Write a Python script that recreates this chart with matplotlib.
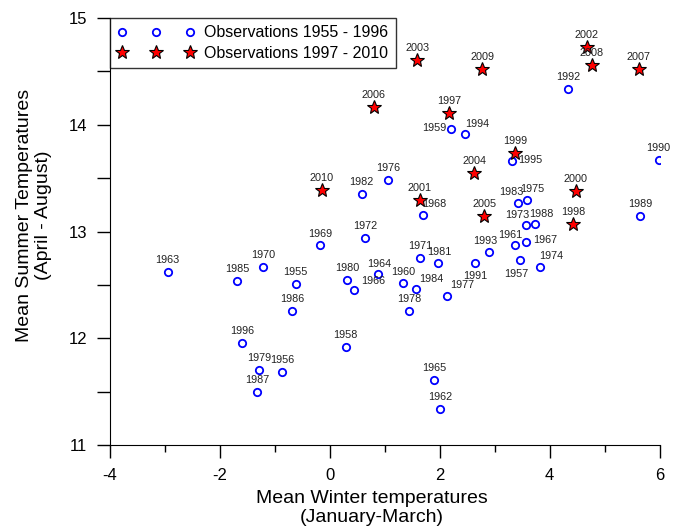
import matplotlib
matplotlib.use("Agg")
import matplotlib.pyplot as plt
from matplotlib.ticker import MultipleLocator

plt.rcParams["font.family"] = ["Liberation Sans", "DejaVu Sans"]
plt.rcParams["axes.unicode_minus"] = False

# observations 1955 - 1996
old_years = [1955, 1956, 1957, 1958, 1959, 1960, 1961, 1962, 1963, 1964,
             1965, 1966, 1967, 1968, 1969, 1970, 1971, 1972, 1973, 1974,
             1975, 1976, 1977, 1978, 1979, 1980, 1981, 1982, 1983, 1984,
             1985, 1986, 1987, 1988, 1989, 1990, 1991, 1992, 1993, 1994,
             1995, 1996]
old_winter = [-0.62, -0.86, 3.46, 0.29, 2.21, 1.33, 3.36, 2.01, -2.95, 0.87,
              1.90, 0.44, 3.56, 1.70, -0.17, -1.21, 1.64, 0.64, 3.57, 3.83,
              3.59, 1.06, 2.13, 1.44, -1.28, 0.31, 1.97, 0.58, 3.43, 1.57,
              -1.68, -0.68, -1.32, 3.74, 5.64, 5.98, 2.64, 4.34, 2.90, 2.46,
              3.32, -1.59]
old_summer = [12.51, 11.69, 12.73, 11.92, 13.96, 12.52, 12.87, 11.34, 12.62, 12.60,
              11.61, 12.45, 12.90, 13.16, 12.87, 12.67, 12.75, 12.94, 13.06, 12.67,
              13.30, 13.48, 12.40, 12.26, 11.70, 12.55, 12.71, 13.35, 13.27, 12.46,
              12.54, 12.26, 11.50, 13.07, 13.15, 13.67, 12.71, 14.34, 12.81, 13.91,
              13.66, 11.96]

# observations 1997 - 2010
new_years = [1997, 1998, 1999, 2000, 2001, 2002, 2003, 2004, 2005, 2006,
             2007, 2008, 2009, 2010]
new_winter = [2.17, 4.43, 3.37, 4.47, 1.64, 4.67, 1.59, 2.63, 2.81, 0.80,
              5.62, 4.76, 2.77, -0.15]
new_summer = [14.11, 13.07, 13.74, 13.38, 13.30, 14.73, 14.61, 13.55, 13.15, 14.17,
              14.52, 14.56, 14.52, 13.39]

# label offsets (points) where the label is not straight above the marker
offsets = {
    1959: (-12, -3), 1994: (9, 4), 1995: (13, -3), 1968: (8, 4),
    1966: (14, 3), 1984: (11, 4), 1977: (11, 4), 1974: (8, 4),
    1967: (14, -2), 1991: (0, -13), 1957: (-3, -13), 1983: (-5, 4),
    1975: (4, 4), 1973: (-6, 4), 1988: (4, 4), 1961: (-3, 4),
    1964: (1, 4), 1960: (0, 4), 1981: (1, 4), 1993: (-3, 4),
}

fig = plt.figure(figsize=(6.78, 5.30), dpi=100)
ax = fig.add_axes([0.162, 0.160, 0.811, 0.806])

ax.plot(old_winter, old_summer, "o", ms=5.3, mfc="white", mec="blue", mew=1.3,
        ls="none", label="Observations 1955 - 1996")
ax.plot(new_winter, new_summer, "*", ms=10, mfc="red", mec="black", mew=0.8,
        ls="none", label="Observations 1997 - 2010")

for yr, xv, yv in list(zip(old_years, old_winter, old_summer)) + \
        list(zip(new_years, new_winter, new_summer)):
    dx, dy = offsets.get(yr, (0, 5))
    ax.annotate(str(yr), (xv, yv), xytext=(dx, dy), textcoords="offset points",
                ha="center", va="bottom", fontsize=7.8, color="#222222")

ax.set_xlim(-4, 6)
ax.set_ylim(11, 15)
ax.xaxis.set_major_locator(MultipleLocator(2))
ax.xaxis.set_minor_locator(MultipleLocator(1))
ax.yaxis.set_major_locator(MultipleLocator(1))
ax.yaxis.set_minor_locator(MultipleLocator(0.5))
ax.tick_params(which="major", direction="out", length=9.4, width=1,
               labelsize=12, pad=7)
ax.tick_params(axis="x", which="minor", direction="out", length=5, width=1)
ax.tick_params(axis="y", which="minor", direction="out", length=9.4, width=1)
ax.spines["top"].set_visible(False)
ax.spines["right"].set_visible(False)

ax.set_xlabel("Mean Winter temperatures\n(January-March)", fontsize=14,
              linespacing=1.15, va="center")
ax.xaxis.set_label_coords(0.476, -0.1475)
ax.set_ylabel("Mean Summer Temperatures\n(April - August)", fontsize=14,
              linespacing=1.15, va="center")
ax.yaxis.set_label_coords(-0.138, 0.539)

leg = ax.legend(loc="upper left", numpoints=3, fontsize=11.5, frameon=True,
                fancybox=False, edgecolor="black", borderaxespad=0.0,
                borderpad=0.45, handlelength=4.9, handletextpad=0.57,
                labelspacing=0.35)
leg.get_frame().set_linewidth(1.0)

fig.savefig("out.png", dpi=100)
